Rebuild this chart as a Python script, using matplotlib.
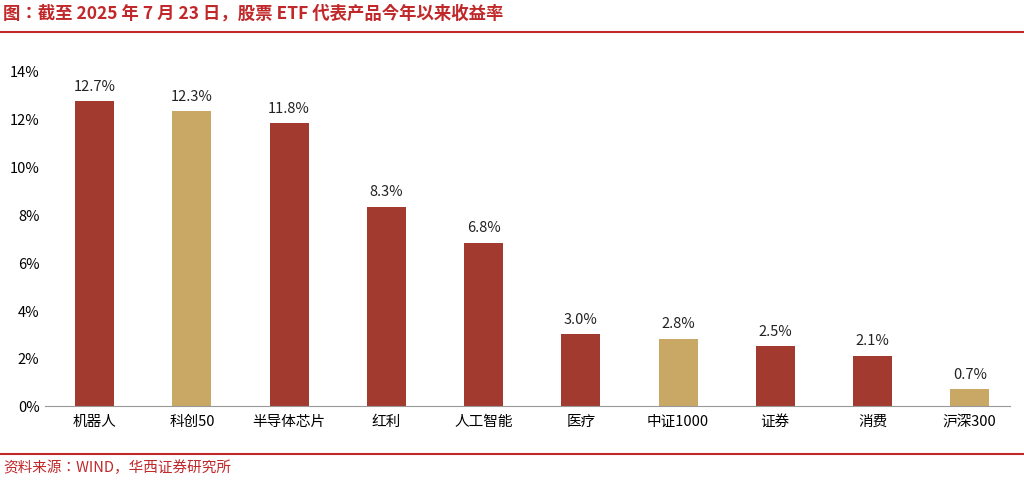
import matplotlib
matplotlib.use("Agg")
import matplotlib.pyplot as plt
from matplotlib.lines import Line2D
from matplotlib import font_manager

cjk = None
for f in font_manager.fontManager.ttflist:
    if "CJK SC" in f.name:
        cjk = f.name
        break
if cjk is None:
    for f in font_manager.fontManager.ttflist:
        if "CJK" in f.name:
            cjk = f.name
            break
plt.rcParams["font.family"] = [cjk or "Noto Sans CJK SC", "DejaVu Sans"]

categories = ["机器人", "科创50", "半导体芯片", "红利", "人工智能", "医疗", "中证1000", "证券", "消费", "沪深300"]
values = [12.7, 12.3, 11.8, 8.3, 6.8, 3.0, 2.8, 2.5, 2.1, 0.7]
highlight = [False, True, False, False, False, False, True, False, False, True]
yticks = [0, 2, 4, 6, 8, 10, 12, 14]

red = "#A33A30"
gold = "#C9A765"

fig = plt.figure(figsize=(10.24, 4.81), dpi=100)
ax = fig.add_axes([0.044, 0.154, 0.942, 0.698])
x = list(range(len(categories)))
colors = [gold if h else red for h in highlight]
ax.bar(x, values, width=0.4, color=colors)
for xi, v in zip(x, values):
    ax.text(xi, v + 0.35, f"{v:.1f}%", ha="center", va="bottom", fontsize=10.5, color="#222222")
ax.set_xlim(-0.51, 9.41)
ax.set_ylim(0, 14)
ax.set_yticks(yticks)
ax.set_yticklabels([f"{t}%" for t in yticks], fontsize=10.5)
ax.set_xticks(x)
ax.set_xticklabels(categories, fontsize=10.5)
for s in ["top", "right", "left"]:
    ax.spines[s].set_visible(False)
ax.spines["bottom"].set_color("#999999")
ax.tick_params(axis="y", length=0, pad=4)
ax.tick_params(axis="x", length=0, pad=6)

fig.text(0.003, 0.972, "图：截至 2025 年 7 月 23 日，股票 ETF 代表产品今年以来收益率",
         fontsize=12.5, color="#C0282A", fontweight="bold", va="center")
fig.add_artist(Line2D([0, 1], [1 - 33/481]*2, color="#C0282A", lw=1.5))
fig.add_artist(Line2D([0, 1], [1 - 455/481]*2, color="#C0282A", lw=1.5))
fig.text(0.003, 1 - 468/481, "资料来源：WIND，华西证券研究所", fontsize=10.5, color="#C0282A", va="center")

fig.savefig("out.png", dpi=100)
